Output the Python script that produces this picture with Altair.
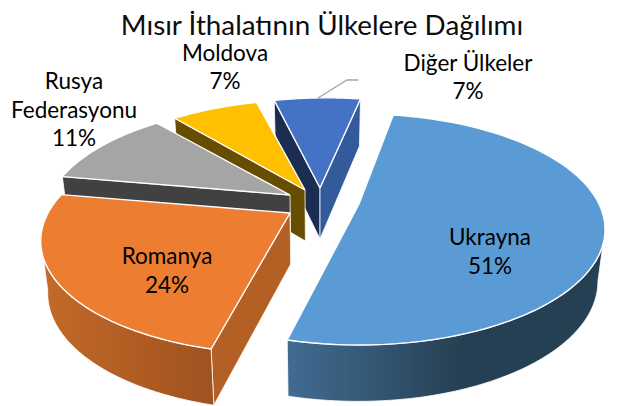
import math
import altair as alt
import pandas as pd

TITLE = "Mısır İthalatının Ülkelere Dağılımı"
categories = ["Ukrayna", "Romanya", "Rusya Federasyonu", "Moldova", "Diğer Ülkeler"]
shares = [51, 24, 11, 7, 7]

FONT = "Lato"
X_DOM = [8, 609]
Y_DOM = [406, 8]

# projection of the tilted pie
START = 10.0
R = 240.0
RS = 110.0
P = 0.22
apex = [(359, 204), (290, 213), (290, 195), (305, 190), (320, 188)]
lean = [0, -24, 0, -20, -35]
radius_scale = [1.0, 1.008, 1.0, 1.0, 1.0]

top_col = ["#5B9BD5", "#ED7D31", "#A5A5A5", "#FFC000", "#4472C4"]
start_wall = [None, "#B45F24", "#414141", "#664D00", "#1B2D50"]
end_wall = [None, None, None, None, "#335A9B"]


def grad(a, mid, b):
    return alt.Gradient(gradient="linear", x1=0, x2=1, y1=0, y2=0,
                        stops=[alt.GradientStop(offset=0, color=a),
                               alt.GradientStop(offset=0.55, color=mid),
                               alt.GradientStop(offset=1, color=b)])


rim_fill = [grad("#416C92", "#264053", "#264053"), grad("#C26B2A", "#B05C22", "#9E5320")]


def W(t):
    return 1 + P * math.cos(math.radians(t))


def top(idx, t):
    ax, ay = apex[idx]
    r = math.radians(t)
    w = W(t)
    return (ax + radius_scale[idx] * R * math.sin(r) / w + lean[idx] * (1 / w - 1),
            ay - RS * math.cos(r) / w)


def drop(p, w=1.0):
    return (320 + (p[0] - 320) * 0.975, p[1] + 51 * w ** -0.4)


def enc():
    return dict(
        x=alt.X("x:Q", scale=alt.Scale(domain=X_DOM), axis=None),
        y=alt.Y("y:Q", scale=alt.Scale(domain=Y_DOM), axis=None),
        order=alt.Order("i:Q"),
    )


def poly(points, fill, stroke="white", sw=1.2):
    pts = list(points) + [points[0]]
    df = pd.DataFrame({"x": [p[0] for p in pts], "y": [p[1] for p in pts], "i": range(len(pts))})
    return alt.Chart(df).mark_line(fill=fill, stroke=stroke, strokeWidth=sw,
                                   strokeJoin="round", clip=False).encode(**enc())


def arc_points(idx, t0, t1, n=80):
    return [top(idx, t0 + (t1 - t0) * k / n) for k in range(n + 1)]


def wall(idx, t):
    a = apex[idx]
    c = top(idx, t)
    return [a, c, drop(c, W(t)), drop(a)]


layers = []
angle = START
bounds = []
for v in shares:
    bounds.append((angle, angle + v * 3.6))
    angle += v * 3.6

for idx in [4, 3, 2, 1, 0]:
    t0, t1 = bounds[idx]
    if start_wall[idx]:
        layers.append(poly(wall(idx, t0), start_wall[idx], sw=0.8))
    if end_wall[idx]:
        layers.append(poly(wall(idx, t1), end_wall[idx], sw=0.8))
    if idx < 2:
        lo = max(t0, 102.7)
        hi = min(t1, 257.3)
        upper = arc_points(idx, lo, hi)
        lower = [drop(p, W(lo + (hi - lo) * k / 80)) for k, p in enumerate(upper)]
        layers.append(poly(upper + lower[::-1], rim_fill[idx], sw=0.8))
    layers.append(poly([apex[idx]] + arc_points(idx, t0, t1), top_col[idx], sw=1.4))

# leader line
lead = pd.DataFrame({"x": [318, 347, 358], "y": [98, 80, 80], "i": [0, 1, 2]})
layers.append(alt.Chart(lead).mark_line(stroke="#A6A6A6", strokeWidth=1.3).encode(**enc()))

# texts
text_rows = [
    ("Diğer Ülkeler", 468, 64), (f"{shares[4]}%", 468, 92),
    ("Moldova", 225, 54), (f"{shares[3]}%", 225, 82),
    ("Rusya", 74, 82), ("Federasyonu", 74, 111), (f"{shares[2]}%", 74, 139),
    ("Romanya", 167, 257), (f"{shares[1]}%", 167, 286),
    ("Ukrayna", 490, 238), (f"{shares[0]}%", 490, 267),
]
tdf = pd.DataFrame(text_rows, columns=["t", "x", "y"])
txt_enc = dict(
    x=alt.X("x:Q", scale=alt.Scale(domain=X_DOM), axis=None),
    y=alt.Y("y:Q", scale=alt.Scale(domain=Y_DOM), axis=None),
    text="t:N",
)
layers.append(alt.Chart(tdf).mark_text(font=FONT, fontSize=22.5, color="#000000", align="center",
                                       baseline="middle").encode(**txt_enc))
tit = pd.DataFrame({"t": [TITLE], "x": [322], "y": [26.5]})
layers.append(alt.Chart(tit).mark_text(font=FONT, fontSize=27.8, color="#0D0D0D", align="center",
                                       baseline="middle").encode(**txt_enc))

chart = alt.layer(*layers).properties(
    width=601, height=398, padding=0,
    autosize=alt.AutoSizeParams(type="none"),
    view=alt.ViewBackground(stroke=None, strokeWidth=0),
    background="white",
).configure_view(stroke=None, strokeWidth=0)

chart.save("out.html", embed_options={"renderer": "svg", "actions": False})
